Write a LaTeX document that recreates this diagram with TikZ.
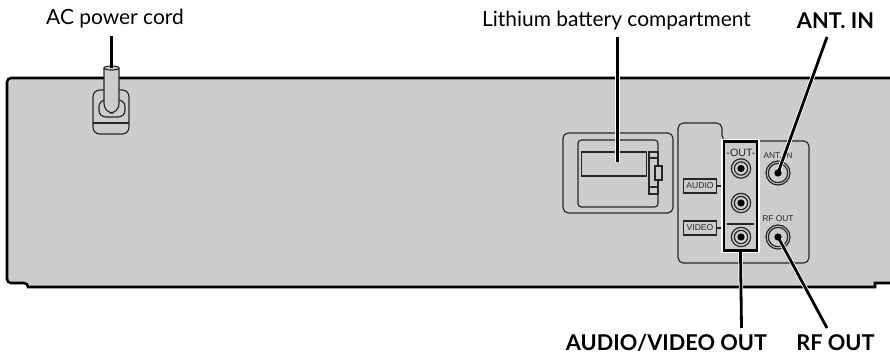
\documentclass[tikz,border=0pt]{standalone}
\usepackage{fontspec}
\setmainfont{Lato}
\newfontfamily\panelfont{Liberation Sans}
\definecolor{bodygray}{gray}{0.8}
\tikzset{
  outline/.style={draw=black!85,line width=0.85pt,rounded corners=2.5pt},
  leader/.style={draw=black,line width=2.1pt,preaction={draw=white,line width=3.3pt}},
  callout/.style={inner sep=0pt,anchor=base,font=\fontsize{15.7}{18}\selectfont},
  boldcallout/.style={inner sep=0pt,anchor=base,font=\fontsize{16.3}{18}\selectfont\bfseries},
  paneltext/.style={inner sep=0pt,font=\panelfont\fontsize{6.3}{7}\selectfont,text=black!85},
  tagbox/.style={draw=black!85,line width=0.8pt,minimum width=24.5pt,minimum height=10.5pt,inner sep=0pt,font=\panelfont\fontsize{6.4}{7}\selectfont,text=black!85},
  ring/.style={draw=black!85,line width=0.9pt},
  pin/.style={circle,fill=black,inner sep=0pt,minimum size=5.4pt}
}
\begin{document}
\begin{tikzpicture}[x=0.75pt,y=-0.75pt]
    \useasboundingbox (0,0) rectangle (890,354);
    % cabinet
    \draw[fill=bodygray,line width=1.9pt,rounded corners=3pt] (890,78) -- (7,78) -- (7,283) -- (28,283) [sharp corners] -- (28,287) -- (875,287) -- (875,283) -- (890,283);
    % power plug
    \draw[outline,rounded corners=5pt] (93,90) rectangle (129,134);
    \draw[outline] (93,123) -- (129,123);
    \draw[outline,rounded corners=5pt] (99,100) rectangle (125,117);
    \draw[outline,fill=bodygray,rounded corners=7pt] (104,68) -- (104,113) -- (119,113) -- (119,68);
    \draw[outline,fill=bodygray] (111.5,68) ellipse (7.5 and 2);
    % battery compartment
    \draw[outline,rounded corners=4pt] (563,133) rectangle (673,213);
    \draw[outline] (578,140) rectangle (658,207);
    \draw[outline,sharp corners] (581.5,152) rectangle (646.5,176);
    \draw[outline,sharp corners] (649,152) rectangle (658,194);
    \draw[outline,sharp corners] (649,158) -- (658,158);
    \draw[outline,sharp corners] (649,187) -- (658,187);
    \draw[outline,sharp corners,fill=bodygray] (655,166) rectangle (662,180);
    % jack panel
    \draw[outline,rounded corners=4pt] (722,141) -- (722,123) -- (678,123) -- (678,263) -- (809,263) -- (809,141) -- cycle;
    \node[tagbox] (audiotag) at (700,186) {AUDIO};
    \node[tagbox] (videotag) at (700,228) {VIDEO};
    \coordinate (audiostub) at (724,186);
    \coordinate (videostub) at (724,228);
    \draw[outline] (audiotag) -- (audiostub);
    \draw[outline] (videotag) -- (videostub);
    % OUT group
    \node[draw=black,line width=2.2pt,fill=bodygray,minimum width=24.75pt,minimum height=82pt,inner sep=0pt,preaction={draw=white,line width=3.8pt}] (outbox) at (740.5,196) {};
    \coordinate (splitl) at (727,224);
    \coordinate (splitr) at (754,224);
    \draw[outline,line width=1.1pt] (splitl) -- (splitr);
    \node[paneltext,font=\panelfont\fontsize{8}{8}\selectfont] (outtext) at (741,153) {-OUT-};
    \foreach \jackname/\jacky in {jacka/168.5,jackb/203,jackc/237} {
      \node[ring,circle,minimum size=14.5pt,inner sep=0pt] (\jackname) at (741,\jacky) {};
      \node[ring,circle,minimum size=10pt,inner sep=0pt] at (\jackname) {};
      \node[pin] at (\jackname) {};
    }
    % antenna and RF jacks
    \node[paneltext] (anttext) at (778,156) {ANT. IN};
    \node[paneltext] (rftext) at (778,219) {RF OUT};
    \foreach \jackname/\jacky in {antjack/173,rfjack/237} {
      \node[ring,circle,minimum size=18pt,inner sep=0pt] (\jackname) at (778,\jacky) {};
      \node[ring,circle,minimum size=14.5pt,inner sep=0pt] at (\jackname) {};
    }
    % labels
    \node[callout] (cordlabel) at (115,24) {AC power cord};
    \node[callout] (lithlabel) at (616.5,26) {Lithium battery compartment};
    \node[boldcallout] (antlabel) at (835.5,28) {ANT. IN};
    \node[boldcallout] (avlabel) at (666.5,350) {AUDIO/VIDEO OUT};
    \node[boldcallout] (rflabel) at (835.5,350) {RF OUT};
    \coordinate (cordtop) at (111.5,36);
    \coordinate (cordend) at (111.5,68);
    \coordinate (lithtop) at (617.5,37);
    \coordinate (lithend) at (617.5,162);
    \coordinate (anttop) at (827,37);
    \coordinate (avend) at (741.5,328);
    \coordinate (rfend) at (827,328);
    \draw[draw=black,line width=1.6pt] (cordtop) -- (cordend);
    \draw[leader] (lithtop) -- (lithend);
    \draw[leader] (anttop) -- (antjack.center);
    \draw[leader] (avend) -- (outbox.south);
    \draw[leader] (rfend) -- (rfjack.center);
    \node[pin] at (antjack) {};
    \node[pin] at (rfjack) {};
  \end{tikzpicture}
\end{document}
